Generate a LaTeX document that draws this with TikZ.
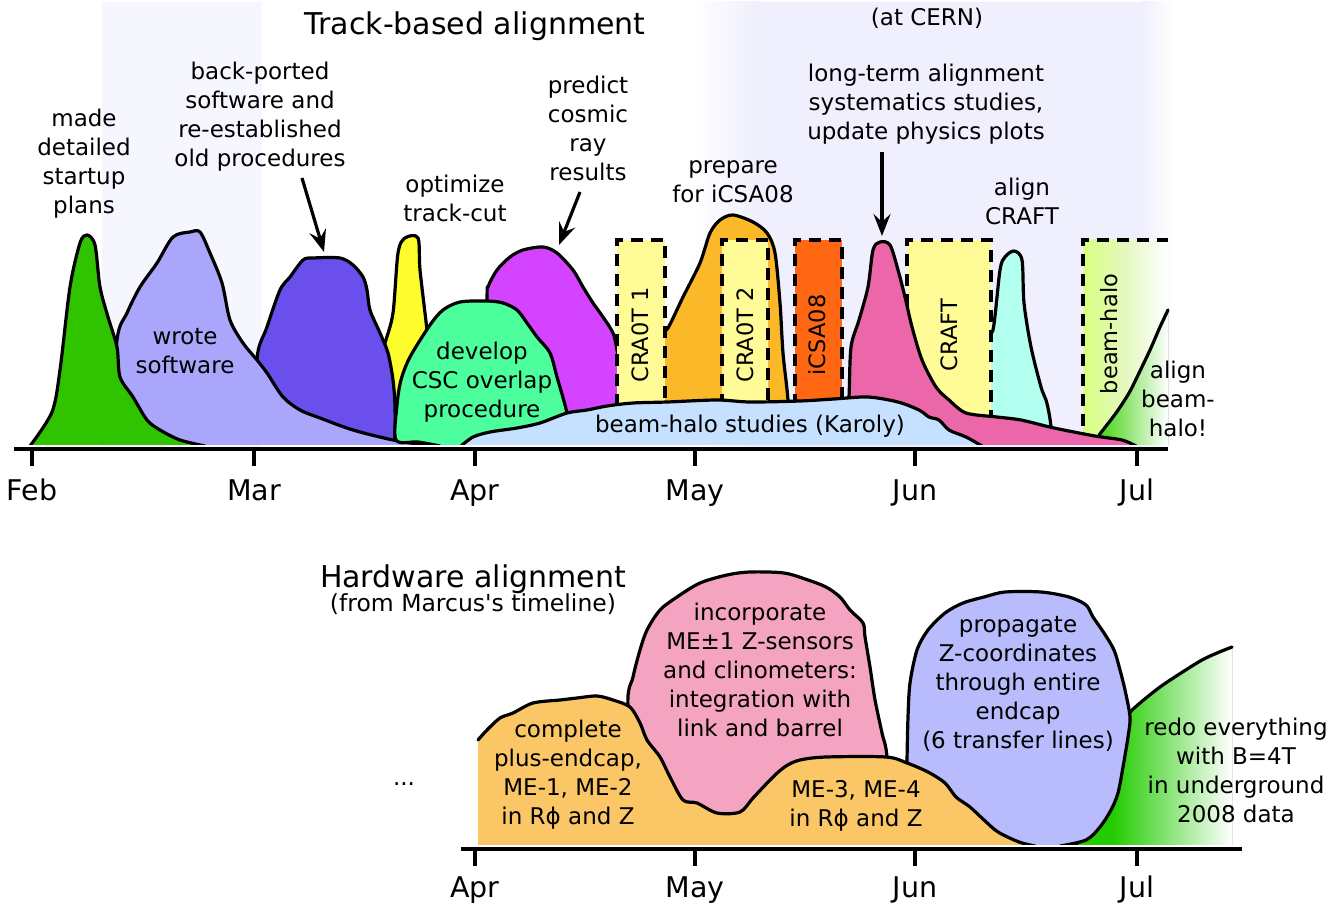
\documentclass[tikz,border=0pt]{standalone}
\usepackage{fontspec}
\setmainfont{DejaVu Sans}
\usetikzlibrary{arrows.meta}
\definecolor{cGreen}{HTML}{30C400}
\definecolor{cLav}{HTML}{AAA6FC}
\definecolor{cPurp}{HTML}{6A4FEC}
\definecolor{cYel}{HTML}{FDFD2E}
\definecolor{cMag}{HTML}{D443FF}
\definecolor{cMint}{HTML}{4DFF9C}
\definecolor{cPale}{HTML}{FFFC98}
\definecolor{cOra}{HTML}{FBB829}
\definecolor{cRed}{HTML}{FF6713}
\definecolor{cSky}{HTML}{C6E0FF}
\definecolor{cPink}{HTML}{EC66AA}
\definecolor{cCyan}{HTML}{B3FFF0}
\definecolor{cLime}{HTML}{D8FF80}
\definecolor{cLimeB}{HTML}{E4F8C0}
\definecolor{cAG}{HTML}{44D411}
\definecolor{cBgA}{HTML}{F6F6FF}
\definecolor{cBgB}{HTML}{EFEFFD}
\definecolor{hOra}{HTML}{FBC766}
\definecolor{hPink}{HTML}{F4A4C0}
\definecolor{hBlue}{HTML}{B8BCFC}
\definecolor{hGreen}{HTML}{22CC00}
\pgfdeclarehorizontalshading{fadeG}{100bp}{color(0bp)=(hGreen); color(25bp)=(hGreen); color(37bp)=(hGreen); color(75bp)=(white); color(100bp)=(white)}
\pgfdeclarehorizontalshading{fadeA}{100bp}{color(0bp)=(cAG); color(25bp)=(cAG); color(75bp)=(white); color(100bp)=(white)}
\pgfdeclarehorizontalshading{fadeL}{100bp}{color(0bp)=(cLime); color(25bp)=(cLime); color(50bp)=(cLimeB); color(75bp)=(white); color(100bp)=(white)}
\newcommand\blob[3][]{\fill[#2] plot[smooth,tension=0.5] coordinates {#3} #1 -- cycle; \draw[outl] plot[smooth,tension=0.5] coordinates {#3};}
\begin{document}
\begin{tikzpicture}[x=1pt,y=-1pt,
 outl/.style={line width=3.2pt,line join=round,line cap=round},
 dbox/.style={line width=3.2pt,dash pattern=on 12pt off 8pt},
 lbl/.style={font=\fontsize{23}{29}\selectfont,align=center,inner sep=0pt},
 blbl/.style={font=\fontsize{23}{29}\selectfont,align=center,inner sep=0pt},
 mon/.style={font=\fontsize{28.5}{32}\selectfont,anchor=base,inner sep=0pt},
 rlbl/.style={font=\fontsize{22.5}{26}\selectfont,rotate=90,inner sep=0pt},
 arr/.style={line width=3.2pt,-{Stealth[length=22pt,width=17pt,inset=8pt]}},
 axisl/.style={line width=3.2pt}]
\useasboundingbox (0,0) rectangle (1332,909);
% backgrounds
\fill[cBgA] (102,2) rectangle (262,447);
\fill[left color=white,right color=cBgB] (690,2) rectangle (760,447);
\fill[cBgB] (760,2) rectangle (1140,447);
\fill[left color=cBgB,right color=white] (1140,2) rectangle (1172,447);
% top shapes
\begin{scope}
\clip (0,0) rectangle (1332,444.5);
\blob{cYel}{(378,446) (380,360) (385,343) (393,313) (398,253) (405,238) (418,238) (420,270) (427,330) (430,360) (432,446)}
\blob{cPurp}{(262,446) (257,360) (267,327) (280,290) (290,277) (303,260) (313,258) (340,258) (353,265) (363,277) (367,290) (370,310) (380,333) (388,353) (393,380) (395,407) (395,446)}
\blob{cLav}{(110,446) (117,340) (127,313) (140,287) (157,263) (173,237) (190,232) (200,232) (210,253) (222,283) (230,320) (243,343) (257,360) (267,373) (283,397) (300,410) (320,418) (353,430) (393,440) (430,446)}
\blob{cGreen}{(30,446) (52,412) (60,370) (70,287) (80,243) (87,235) (95,245) (100,287) (108,317) (117,347) (120,377) (133,397) (147,420) (160,430) (180,440) (205,446)}
\blob{cMag}{(485,446) (487,300) (488,287) (497,270) (510,257) (523,250) (543,247) (557,253) (573,270) (583,287) (593,303) (603,317) (613,333) (617,350) (622,380) (625,446)}
\blob{cMint}{(440,446) (418,442) (396,440) (397,405) (401,380) (410,357) (430,325) (443,310) (460,302) (487,301) (503,303) (517,310) (527,323) (537,337) (550,353) (557,377) (567,413) (572,446)}
\blob{cOra}{(655,446) (655,345) (668,328) (683,297) (700,263) (710,233) (720,220) (733,215) (753,222) (767,233) (775,253) (780,303) (783,353) (788,400) (790,446)}
\fill[cPale] (617,240) rectangle (665,446);
\draw[dbox] (617,446) -- (617,240) -- (665,240) -- (665,446);
\fill[cPale] (722,240) rectangle (768,446);
\draw[dbox] (722,446) -- (722,240) -- (768,240) -- (768,446);
\fill[cRed] (795,240) rectangle (842,446);
\draw[dbox] (795,446) -- (795,240) -- (842,240) -- (842,446);
\fill[shade,shading=fadeL] (1083,240) rectangle (1168,446);
\draw[dbox] (1083,446) -- (1083,240) -- (1168,240);
\blob[-- (1168,446) -- (1099,446)]{shade,shading=fadeA}{(1099,435) (1116,413) (1129,393) (1139,373) (1150,350) (1160,327) (1168,310)}
\blob{cCyan}{(985,446) (985,335) (993,330) (1000,270) (1005,257) (1014,251) (1022,260) (1024,303) (1031,347) (1041,387) (1046,400) (1049,413) (1051,427) (1052,446)}
\fill[cPale] (907,240) rectangle (991,446);
\draw[dbox] (907,446) -- (907,240) -- (991,240) -- (991,446);
\blob{cPink}{(846,446) (849,397) (851,347) (859,320) (868,287) (873,250) (880,242) (890,245) (898,270) (905,297) (912,327) (922,360) (936,387) (949,400) (966,413) (997,417) (1021,420) (1054,428) (1095,436) (1122,440) (1136,446)}
\blob{cSky}{(461,446) (473,437) (490,432) (517,428) (540,423) (567,413) (587,410) (607,406) (633,403) (667,402) (717,400) (750,402) (800,401) (834,399) (868,397) (898,402) (919,410) (929,417) (939,420) (949,430) (966,437) (982,446)}
\end{scope}
% top axis
\draw[axisl] (14,449) -- (1168,449);
\foreach \x/\m in {32/Feb,254/Mar,475/Apr,695/May,915/Jun,1137/Jul}{
  \draw[axisl] (\x,449) -- (\x,466);
  \node[mon] (m\m) at (\x,500) {\m};
}
% top texts
\node[font=\fontsize{30}{34}\selectfont,anchor=base,inner sep=0pt] (title1) at (475,35) {Track-based alignment};
\node[font=\fontsize{23}{26}\selectfont,anchor=base,inner sep=0pt] (cern) at (927,26) {(at CERN)};
\node[lbl] (tmade) at (84,164) {made\\detailed\\startup\\plans};
\node[lbl] (tback) at (260,117) {back-ported\\software and\\re-established\\old procedures};
\node[lbl] (topt) at (455,198) {optimize\\track-cut};
\node[lbl] (tpred) at (588,128) {predict\\cosmic\\ray\\results};
\node[lbl] (tprep) at (733,182) {prepare\\for iCSA08};
\node[lbl] (tlong) at (926,104) {long-term alignment\\systematics studies,\\update physics plots};
\node[lbl] (tcraft) at (1022,201) {align\\CRAFT};
\node[lbl] (twrote) at (185,351) {wrote\\software};
\node[lbl] (tdev) at (482,382) {develop\\CSC overlap\\procedure};
\node[lbl] (tbh) at (1178,399) {align\\beam-\\halo!};
\node[lbl] (tbhs) at (750,426) {beam-halo studies (Karoly)};
\node[rlbl] (r1) at (640,335) {CRA0T 1};
\node[rlbl] (r2) at (745,335) {CRA0T 2};
\node[rlbl] (r3) at (817,335) {iCSA08};
\node[rlbl] (r4) at (949,335) {CRAFT};
\node[rlbl] (r5) at (1109,334) {beam-halo};
% arrows
\coordinate (a1s) at (302,178); \coordinate (a1e) at (324,252);
\coordinate (a2s) at (580,192); \coordinate (a2e) at (559,245);
\coordinate (a3s) at (882,152); \coordinate (a3e) at (882,236);
\draw[arr] (a1s) -- (a1e);
\draw[arr] (a2s) -- (a2e);
\draw[arr] (a3s) -- (a3e);
% bottom shapes
\begin{scope}
\clip (0,500) rectangle (1332,844.5);
\blob{hPink}{(640,830) (628,707) (633,677) (640,650) (647,630) (660,610) (677,597) (700,583) (727,575) (750,572) (784,573) (808,580) (826,587) (840,597) (850,610) (863,623) (865,637) (870,667) (875,700) (882,733) (887,757) (890,830)}
\blob[-- (1232,846)]{shade,shading=fadeG}{(1075,846) (1100,810) (1112,770) (1120,735) (1128,715) (1140,703) (1160,687) (1181,673) (1202,660) (1217,653) (1232,647)}
\blob[-- (907,846)]{hBlue}{(907,800) (907,762) (908,717) (910,683) (917,650) (928,630) (945,613) (963,603) (984,597) (1005,592) (1041,592) (1069,597) (1086,605) (1093,617) (1104,633) (1114,650) (1120,670) (1125,690) (1130,717) (1128,737) (1123,767) (1118,793) (1111,810) (1100,827) (1086,840) (1060,846)}
\blob[-- (478,846)]{hOra}{(478,740) (487,730) (500,718) (513,713) (533,703) (560,700) (577,698) (597,696) (613,700) (630,707) (640,723) (647,740) (660,757) (670,777) (683,800) (697,803) (717,813) (740,812) (753,798) (773,777) (786,766) (800,760) (826,757) (886,757) (907,763) (928,772) (945,783) (956,797) (970,807) (984,820) (998,832) (1019,842) (1035,846)}
\end{scope}
% bottom axis
\draw[axisl] (461,849) -- (1242,849);
\foreach \x/\m in {475/Apr,695/May,915/Jun,1137/Jul}{
  \draw[axisl] (\x,849) -- (\x,866);
  \node[mon] (b\m) at (\x,897) {\m};
}
% bottom texts
\node[font=\fontsize{30}{34}\selectfont,anchor=base,inner sep=0pt] (title2) at (473,587) {Hardware alignment};
\node[font=\fontsize{23.5}{26}\selectfont,anchor=base,inner sep=0pt] (title3) at (473,611) {(from Marcus\textquotesingle s timeline)};
\node[font=\fontsize{23}{25}\selectfont,anchor=base,inner sep=0pt] (dots) at (404,785) {...};
\node[blbl] (hcomp) at (568,775) {complete\\plus-endcap,\\ME-1, ME-2\\in Rϕ and Z};
\node[blbl] (hinc) at (760,670) {incorporate\\ME±1 Z-sensors\\and clinometers:\\integration with\\link and barrel};
\node[blbl] (hme3) at (856,806) {ME-3, ME-4\\in Rϕ and Z};
\node[blbl] (hprop) at (1018,684) {propagate\\Z-coordinates\\through entire\\endcap\\(6 transfer lines)};
\node[blbl] (hredo) at (1236,770) {redo everything\\with B=4T\\in underground\\2008 data};
\end{tikzpicture}
\end{document}
